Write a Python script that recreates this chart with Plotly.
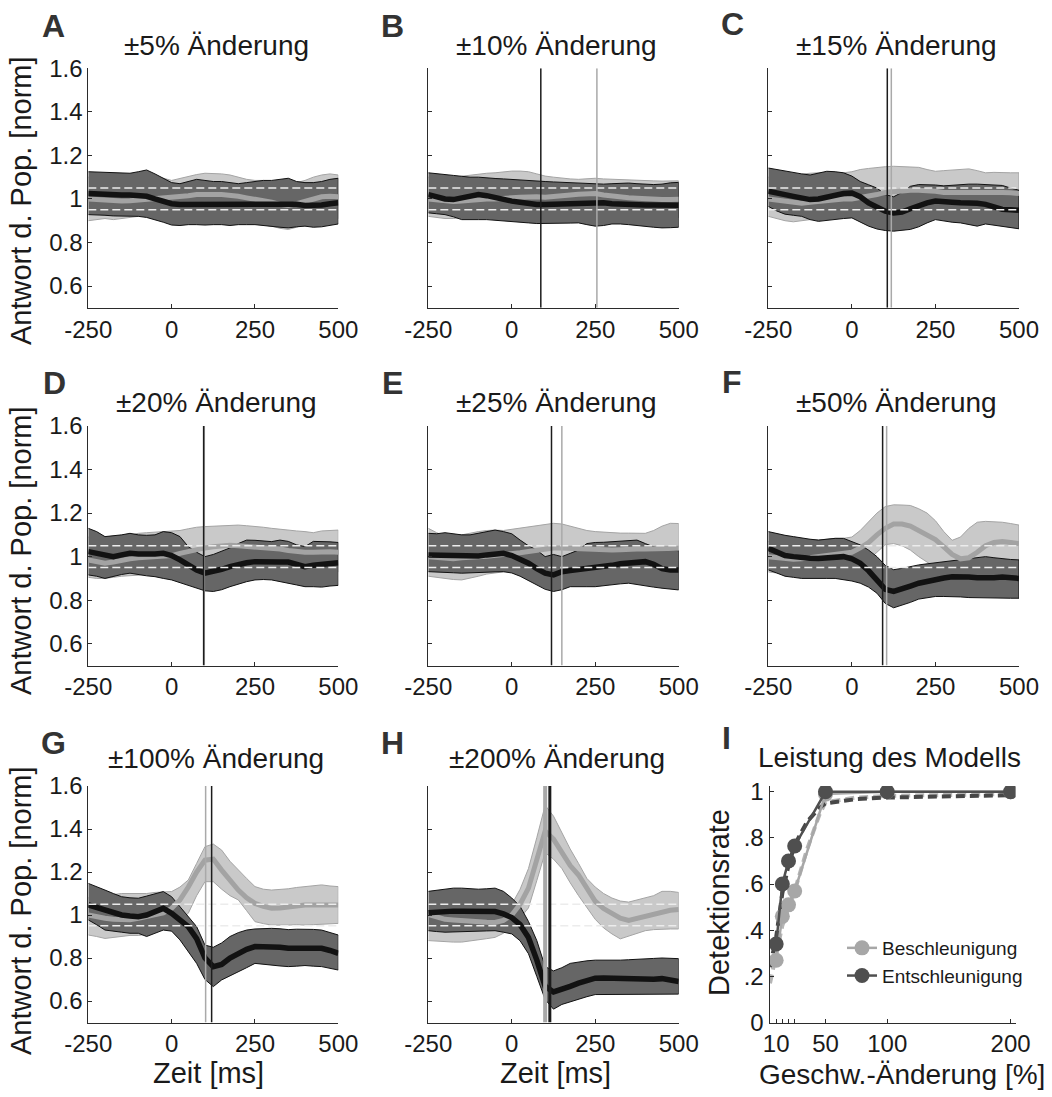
import plotly.graph_objects as go

# ---------------------------------------------------------------- data
TIME_MS = [-250, -225, -200, -175, -150, -125, -100, -75, -50, -25, 0, 25, 50, 75, 100,
           125, 150, 175, 200, 225, 250, 275, 300, 325, 350, 375, 400, 425, 450, 475, 500]

THRESH_HI = 1.05
THRESH_LO = 0.95

# ±5 %
A_acc_mean = [1.0, 0.998, 0.995, 0.99, 0.99, 0.992, 0.995, 0.998, 1.0, 1.002, 1.005, 1.01, 1.015, 1.02, 1.022, 1.02, 1.02, 1.018, 1.012, 1.005, 1.0, 0.995, 0.985, 0.975, 0.97, 0.978, 0.99, 1.0, 1.01, 1.012, 1.01]
A_acc_hi = [1.1, 1.098, 1.09, 1.085, 1.085, 1.09, 1.095, 1.1, 1.1, 1.095, 1.085, 1.095, 1.105, 1.112, 1.118, 1.118, 1.115, 1.11, 1.1, 1.09, 1.085, 1.085, 1.08, 1.075, 1.07, 1.075, 1.085, 1.1, 1.11, 1.115, 1.11]
A_acc_lo = [0.9, 0.905, 0.91, 0.905, 0.91, 0.915, 0.92, 0.92, 0.925, 0.93, 0.93, 0.935, 0.94, 0.945, 0.945, 0.94, 0.935, 0.925, 0.915, 0.9, 0.89, 0.88, 0.875, 0.865, 0.86, 0.87, 0.885, 0.9, 0.91, 0.915, 0.91]
A_dec_mean = [1.025, 1.022, 1.02, 1.02, 1.018, 1.018, 1.015, 1.012, 1.0, 0.988, 0.978, 0.975, 0.975, 0.977, 0.976, 0.975, 0.977, 0.978, 0.976, 0.975, 0.977, 0.975, 0.972, 0.975, 0.978, 0.976, 0.97, 0.968, 0.972, 0.978, 0.982]
A_dec_hi = [1.125, 1.123, 1.122, 1.12, 1.12, 1.118, 1.125, 1.133, 1.115, 1.095, 1.075, 1.07, 1.08, 1.09, 1.085, 1.08, 1.08, 1.075, 1.07, 1.075, 1.08, 1.085, 1.085, 1.09, 1.095, 1.08, 1.075, 1.075, 1.08, 1.09, 1.095]
A_dec_lo = [0.928, 0.925, 0.925, 0.922, 0.922, 0.92, 0.92, 0.915, 0.905, 0.893, 0.88, 0.878, 0.882, 0.882, 0.88, 0.882, 0.882, 0.878, 0.882, 0.882, 0.882, 0.878, 0.875, 0.87, 0.867, 0.872, 0.875, 0.87, 0.872, 0.878, 0.885]

# ±10 %
B_acc_mean = [1.0, 0.995, 0.99, 0.988, 0.99, 0.995, 1.0, 1.0, 1.0, 1.0, 1.005, 1.008, 1.01, 1.01, 1.008, 1.01, 1.012, 1.018, 1.022, 1.025, 1.025, 1.018, 1.012, 1.008, 1.005, 1.003, 1.0, 0.998, 0.997, 0.997, 0.998]
B_acc_hi = [1.1, 1.1, 1.095, 1.1, 1.105, 1.11, 1.115, 1.118, 1.12, 1.125, 1.128, 1.128, 1.125, 1.115, 1.105, 1.1, 1.095, 1.092, 1.09, 1.092, 1.095, 1.092, 1.09, 1.088, 1.086, 1.085, 1.085, 1.083, 1.082, 1.082, 1.083]
B_acc_lo = [0.92, 0.915, 0.91, 0.91, 0.915, 0.92, 0.925, 0.925, 0.928, 0.93, 0.93, 0.93, 0.93, 0.93, 0.928, 0.925, 0.92, 0.918, 0.915, 0.912, 0.91, 0.91, 0.91, 0.912, 0.912, 0.91, 0.91, 0.91, 0.91, 0.912, 0.915]
B_dec_mean = [1.02, 1.01, 1.0, 0.997, 1.005, 1.015, 1.02, 1.015, 1.005, 0.998, 0.99, 0.985, 0.978, 0.975, 0.975, 0.976, 0.978, 0.98, 0.982, 0.984, 0.985, 0.982, 0.978, 0.975, 0.974, 0.973, 0.972, 0.972, 0.971, 0.971, 0.971]
B_dec_hi = [1.12, 1.115, 1.11, 1.108, 1.104, 1.1, 1.1, 1.096, 1.094, 1.092, 1.089, 1.086, 1.083, 1.082, 1.08, 1.078, 1.076, 1.074, 1.073, 1.072, 1.07, 1.068, 1.07, 1.072, 1.073, 1.07, 1.068, 1.066, 1.068, 1.074, 1.076]
B_dec_lo = [0.936, 0.932, 0.928, 0.918, 0.905, 0.905, 0.905, 0.905, 0.903, 0.9, 0.898, 0.893, 0.89, 0.887, 0.887, 0.888, 0.888, 0.889, 0.89, 0.882, 0.875, 0.878, 0.885, 0.885, 0.882, 0.878, 0.875, 0.87, 0.867, 0.868, 0.87]

# ±15 %
C_acc_mean = [1.0, 0.995, 0.985, 0.98, 0.98, 0.985, 0.99, 0.995, 0.995, 1.0, 1.0, 1.005, 1.01, 1.02, 1.03, 1.035, 1.04, 1.04, 1.04, 1.04, 1.035, 1.03, 1.03, 1.03, 1.035, 1.035, 1.03, 1.03, 1.03, 1.028, 1.025]
C_acc_hi = [1.1, 1.1, 1.105, 1.11, 1.115, 1.118, 1.12, 1.118, 1.12, 1.12, 1.125, 1.135, 1.14, 1.145, 1.148, 1.15, 1.148, 1.145, 1.145, 1.135, 1.127, 1.13, 1.132, 1.135, 1.138, 1.13, 1.12, 1.122, 1.12, 1.12, 1.12]
C_acc_lo = [0.92, 0.91, 0.9, 0.895, 0.9, 0.905, 0.91, 0.915, 0.915, 0.925, 0.935, 0.945, 0.955, 0.96, 0.962, 0.96, 0.955, 0.95, 0.945, 0.94, 0.935, 0.935, 0.935, 0.935, 0.94, 0.94, 0.935, 0.935, 0.935, 0.935, 0.935]
C_dec_mean = [1.035, 1.03, 1.02, 1.012, 1.005, 0.997, 1.0, 1.01, 1.02, 1.025, 1.027, 1.01, 0.982, 0.96, 0.944, 0.936, 0.94, 0.955, 0.97, 0.982, 0.99, 0.99, 0.985, 0.982, 0.982, 0.98, 0.975, 0.965, 0.952, 0.95, 0.948]
C_dec_hi = [1.142, 1.135, 1.128, 1.12, 1.115, 1.11, 1.118, 1.127, 1.125, 1.12, 1.105, 1.08, 1.065, 1.05, 1.02, 1.01, 1.03, 1.058, 1.066, 1.066, 1.064, 1.06, 1.063, 1.066, 1.068, 1.068, 1.066, 1.064, 1.062, 1.05, 1.04]
C_dec_lo = [0.966, 0.945, 0.93, 0.925, 0.92, 0.905, 0.897, 0.9, 0.905, 0.91, 0.913, 0.895, 0.875, 0.862, 0.855, 0.852, 0.856, 0.86, 0.872, 0.89, 0.905, 0.9, 0.893, 0.89, 0.882, 0.875, 0.885, 0.88, 0.875, 0.868, 0.863]

# ±20 %
D_acc_mean = [0.985, 0.975, 0.97, 0.975, 0.985, 0.99, 0.995, 0.998, 1.0, 1.0, 1.005, 1.015, 1.025, 1.035, 1.04, 1.045, 1.05, 1.052, 1.05, 1.048, 1.045, 1.042, 1.04, 1.035, 1.028, 1.022, 1.02, 1.02, 1.022, 1.022, 1.02]
D_acc_hi = [1.09, 1.085, 1.08, 1.085, 1.09, 1.1, 1.107, 1.11, 1.112, 1.115, 1.115, 1.12, 1.128, 1.135, 1.138, 1.14, 1.142, 1.145, 1.145, 1.142, 1.14, 1.135, 1.13, 1.125, 1.12, 1.118, 1.115, 1.11, 1.118, 1.12, 1.122]
D_acc_lo = [0.905, 0.9, 0.9, 0.905, 0.91, 0.915, 0.915, 0.918, 0.92, 0.925, 0.935, 0.945, 0.955, 0.96, 0.962, 0.96, 0.958, 0.955, 0.955, 0.953, 0.95, 0.948, 0.945, 0.94, 0.935, 0.93, 0.928, 0.928, 0.93, 0.93, 0.93]
D_dec_mean = [1.023, 1.015, 1.005, 1.0, 1.008, 1.015, 1.012, 1.01, 1.012, 1.015, 1.005, 0.985, 0.96, 0.939, 0.924, 0.931, 0.942, 0.954, 0.965, 0.972, 0.977, 0.978, 0.98, 0.975, 0.975, 0.965, 0.954, 0.96, 0.965, 0.97, 0.972]
D_dec_hi = [1.13, 1.115, 1.092, 1.095, 1.1, 1.107, 1.1, 1.098, 1.1, 1.115, 1.11, 1.092, 1.046, 1.02, 1.0, 1.01, 1.025, 1.04, 1.06, 1.076, 1.075, 1.072, 1.069, 1.076, 1.07, 1.054, 1.046, 1.07, 1.07, 1.068, 1.065]
D_dec_lo = [0.916, 0.91, 0.9, 0.91, 0.918, 0.924, 0.918, 0.912, 0.908, 0.9, 0.893, 0.88, 0.868, 0.855, 0.843, 0.84, 0.848, 0.862, 0.875, 0.885, 0.893, 0.895, 0.893, 0.885, 0.878, 0.87, 0.862, 0.862, 0.86, 0.865, 0.868]

# ±25 %
E_acc_mean = [1.0, 0.995, 0.99, 0.99, 0.995, 1.0, 1.0, 1.002, 1.005, 1.008, 1.012, 1.018, 1.024, 1.03, 1.035, 1.04, 1.04, 1.038, 1.035, 1.032, 1.03, 1.03, 1.03, 1.032, 1.035, 1.035, 1.035, 1.036, 1.038, 1.038, 1.038]
E_acc_hi = [1.13, 1.11, 1.095, 1.092, 1.1, 1.108, 1.115, 1.12, 1.122, 1.12, 1.125, 1.13, 1.135, 1.14, 1.148, 1.153, 1.15, 1.14, 1.128, 1.12, 1.115, 1.112, 1.11, 1.108, 1.108, 1.107, 1.107, 1.12, 1.14, 1.153, 1.152]
E_acc_lo = [0.91, 0.905, 0.9, 0.895, 0.893, 0.9, 0.91, 0.92, 0.925, 0.93, 0.935, 0.94, 0.945, 0.95, 0.955, 0.958, 0.955, 0.95, 0.948, 0.945, 0.945, 0.945, 0.945, 0.945, 0.945, 0.945, 0.945, 0.945, 0.945, 0.945, 0.945]
E_dec_mean = [1.008, 1.007, 1.005, 1.002, 1.0, 1.0, 1.003, 1.008, 1.012, 1.015, 1.005, 0.99, 0.97, 0.945, 0.924, 0.916, 0.931, 0.936, 0.94, 0.943, 0.946, 0.952, 0.96, 0.967, 0.972, 0.975, 0.977, 0.965, 0.945, 0.939, 0.939]
E_dec_hi = [1.107, 1.105, 1.11, 1.105, 1.1, 1.1, 1.108, 1.115, 1.122, 1.115, 1.105, 1.076, 1.05, 1.03, 1.0, 1.01, 1.0, 1.015, 1.03, 1.06, 1.065, 1.066, 1.068, 1.069, 1.072, 1.076, 1.06, 1.045, 1.035, 1.03, 1.027]
E_dec_lo = [0.931, 0.93, 0.928, 0.926, 0.924, 0.924, 0.926, 0.928, 0.93, 0.931, 0.925, 0.91, 0.893, 0.87, 0.85, 0.84, 0.848, 0.862, 0.862, 0.862, 0.862, 0.865, 0.87, 0.875, 0.878, 0.872, 0.865, 0.86, 0.855, 0.85, 0.847]

# ±50 %
F_acc_mean = [1.0, 0.995, 0.99, 0.988, 0.99, 0.995, 1.0, 1.005, 1.008, 1.01, 1.02, 1.04, 1.065, 1.1, 1.13, 1.15, 1.15, 1.14, 1.12, 1.1, 1.078, 1.045, 1.01, 0.99, 0.995, 1.02, 1.05, 1.065, 1.07, 1.065, 1.06]
F_acc_hi = [1.07, 1.07, 1.075, 1.08, 1.08, 1.078, 1.076, 1.08, 1.084, 1.084, 1.09, 1.12, 1.16, 1.2, 1.23, 1.238, 1.237, 1.235, 1.22, 1.2, 1.165, 1.115, 1.075, 1.09, 1.13, 1.158, 1.162, 1.16, 1.158, 1.152, 1.145]
F_acc_lo = [0.93, 0.925, 0.92, 0.92, 0.92, 0.925, 0.93, 0.935, 0.94, 0.945, 0.95, 0.96, 0.985, 1.02, 1.055, 1.06, 1.05, 1.03, 1.0, 0.975, 0.95, 0.925, 0.91, 0.91, 0.93, 0.955, 0.975, 0.985, 0.985, 0.98, 0.975]
F_dec_mean = [1.038, 1.02, 1.005, 1.0, 0.995, 0.993, 0.992, 0.995, 0.998, 1.0, 0.99, 0.97, 0.935, 0.893, 0.85, 0.84, 0.855, 0.865, 0.878, 0.888, 0.895, 0.902, 0.908, 0.91, 0.906, 0.903, 0.9, 0.903, 0.906, 0.902, 0.9]
F_dec_hi = [1.115, 1.105, 1.098, 1.092, 1.085, 1.08, 1.076, 1.08, 1.084, 1.084, 1.07, 1.054, 1.03, 1.0, 0.96, 0.94, 0.946, 0.955, 0.962, 0.967, 0.972, 0.977, 0.982, 0.987, 0.992, 0.996, 1.0, 0.995, 0.99, 0.987, 0.985]
F_dec_lo = [0.939, 0.925, 0.91, 0.905, 0.9, 0.9, 0.9, 0.9, 0.9, 0.895, 0.888, 0.878, 0.86, 0.832, 0.785, 0.765, 0.778, 0.79, 0.805, 0.812, 0.817, 0.817, 0.817, 0.815, 0.812, 0.81, 0.809, 0.809, 0.809, 0.809, 0.809]

# ±100 %
G_acc_mean = [1.0, 0.99, 0.985, 0.98, 0.977, 0.978, 0.985, 0.995, 1.0, 1.01, 1.031, 1.07, 1.13, 1.2, 1.255, 1.26, 1.209, 1.16, 1.116, 1.08, 1.054, 1.04, 1.031, 1.033, 1.038, 1.042, 1.047, 1.047, 1.047, 1.047, 1.047]
G_acc_hi = [1.08, 1.085, 1.09, 1.095, 1.1, 1.1, 1.1, 1.1, 1.105, 1.108, 1.109, 1.13, 1.163, 1.24, 1.318, 1.33, 1.302, 1.25, 1.209, 1.17, 1.132, 1.12, 1.116, 1.118, 1.122, 1.128, 1.132, 1.138, 1.14, 1.135, 1.132]
G_acc_lo = [0.907, 0.9, 0.891, 0.895, 0.9, 0.905, 0.905, 0.91, 0.92, 0.935, 0.946, 0.975, 1.008, 1.09, 1.155, 1.155, 1.12, 1.09, 1.07, 1.02, 0.969, 0.96, 0.953, 0.953, 0.953, 0.955, 0.953, 0.955, 0.958, 0.96, 0.961]
G_dec_mean = [1.047, 1.035, 1.023, 1.01, 1.0, 0.995, 0.992, 1.0, 1.016, 1.031, 1.008, 0.98, 0.946, 0.89, 0.8, 0.76, 0.77, 0.8, 0.822, 0.84, 0.853, 0.853, 0.853, 0.85, 0.845, 0.845, 0.845, 0.847, 0.845, 0.835, 0.822]
G_dec_hi = [1.147, 1.13, 1.116, 1.1, 1.085, 1.08, 1.078, 1.088, 1.1, 1.109, 1.085, 1.039, 0.99, 0.946, 0.86, 0.85, 0.87, 0.9, 0.918, 0.93, 0.935, 0.938, 0.938, 0.936, 0.932, 0.934, 0.935, 0.933, 0.93, 0.92, 0.907]
G_dec_lo = [0.977, 0.955, 0.93, 0.925, 0.92, 0.915, 0.915, 0.9, 0.915, 0.93, 0.925, 0.884, 0.83, 0.775, 0.7, 0.667, 0.698, 0.72, 0.736, 0.755, 0.775, 0.772, 0.767, 0.763, 0.76, 0.762, 0.765, 0.762, 0.76, 0.752, 0.744]

# ±200 %
H_acc_mean = [1.003, 0.99, 0.98, 0.977, 0.973, 0.97, 0.968, 0.966, 0.965, 0.975, 1.0, 1.05, 1.125, 1.26, 1.39, 1.353, 1.29, 1.23, 1.186, 1.12, 1.064, 1.03, 1.005, 0.985, 0.975, 0.985, 0.995, 1.005, 1.015, 1.022, 1.026]
H_acc_hi = [1.056, 1.055, 1.052, 1.05, 1.048, 1.046, 1.045, 1.045, 1.045, 1.047, 1.049, 1.12, 1.216, 1.36, 1.51, 1.46, 1.38, 1.307, 1.24, 1.17, 1.13, 1.1, 1.079, 1.065, 1.06, 1.07, 1.079, 1.09, 1.11, 1.11, 1.105]
H_acc_lo = [0.881, 0.878, 0.876, 0.874, 0.874, 0.878, 0.885, 0.89, 0.896, 0.915, 0.942, 0.985, 1.033, 1.16, 1.29, 1.26, 1.216, 1.15, 1.09, 1.033, 0.98, 0.94, 0.912, 0.889, 0.9, 0.915, 0.927, 0.932, 0.935, 0.935, 0.935]
H_dec_mean = [1.01, 1.014, 1.017, 1.018, 1.018, 1.018, 1.018, 1.018, 1.016, 1.005, 0.988, 0.955, 0.895, 0.79, 0.668, 0.642, 0.653, 0.668, 0.683, 0.695, 0.706, 0.707, 0.706, 0.703, 0.7, 0.699, 0.699, 0.701, 0.704, 0.7, 0.691]
H_dec_hi = [1.11, 1.115, 1.12, 1.125, 1.125, 1.122, 1.12, 1.122, 1.125, 1.11, 1.079, 1.04, 0.97, 0.881, 0.76, 0.74, 0.755, 0.775, 0.782, 0.787, 0.79, 0.79, 0.788, 0.79, 0.792, 0.795, 0.797, 0.798, 0.8, 0.8, 0.797]
H_dec_lo = [0.927, 0.923, 0.92, 0.919, 0.92, 0.922, 0.925, 0.926, 0.927, 0.92, 0.912, 0.88, 0.82, 0.714, 0.607, 0.562, 0.584, 0.595, 0.607, 0.62, 0.63, 0.63, 0.63, 0.63, 0.63, 0.63, 0.632, 0.632, 0.632, 0.632, 0.632]

PANEL_LETTERS = ["A", "B", "C", "D", "E", "F", "G", "H"]
PANEL_TITLES = ["±5% Änderung", "±10% Änderung", "±15% Änderung", "±20% Änderung",
                "±25% Änderung", "±50% Änderung", "±100% Änderung", "±200% Änderung"]
# detection times [ms] (acceleration, deceleration); None = not detected
DETECT_ACC = [None, 255, 118, 98, 150, 104, 102, 100]
DETECT_DEC = [None, 87, 106, 96, 119, 92, 120, 114]

# model performance
SPEED_CHANGE = [10, 15, 20, 25, 50, 100, 200]
RATE_ACC = [0.27, 0.46, 0.51, 0.57, 0.99, 1.0, 1.0]
RATE_DEC = [0.34, 0.60, 0.70, 0.765, 1.0, 1.0, 1.0]
FIT_X = [5, 10, 15, 20, 25, 35, 45, 50, 75, 100, 200]
FIT_ACC = [0.17, 0.30, 0.42, 0.50, 0.57, 0.75, 0.90, 0.955, 0.975, 0.982, 0.99]
FIT_DEC = [0.24, 0.37, 0.56, 0.68, 0.77, 0.87, 0.93, 0.95, 0.968, 0.975, 0.985]

TIME_TICKS = [-250, 0, 250, 500]
RESP_TICKS = [0.6, 0.8, 1.0, 1.2, 1.4, 1.6]
RESP_TICKTEXT = ["0.6", "0.8", "1", "1.2", "1.4", "1.6"]
RATE_TICKS = [0, 0.2, 0.4, 0.6, 0.8, 1.0]
RATE_TICKTEXT = ["0", ".2", ".4", ".6", ".8", "1"]
SPEED_TICKS = [10, 15, 20, 25, 50, 100, 200]
SPEED_TICKTEXT = ["10", "", "", "", "50", "100", "200"]

series = {
    "A": (A_acc_mean, A_acc_lo, A_acc_hi, A_dec_mean, A_dec_lo, A_dec_hi),
    "B": (B_acc_mean, B_acc_lo, B_acc_hi, B_dec_mean, B_dec_lo, B_dec_hi),
    "C": (C_acc_mean, C_acc_lo, C_acc_hi, C_dec_mean, C_dec_lo, C_dec_hi),
    "D": (D_acc_mean, D_acc_lo, D_acc_hi, D_dec_mean, D_dec_lo, D_dec_hi),
    "E": (E_acc_mean, E_acc_lo, E_acc_hi, E_dec_mean, E_dec_lo, E_dec_hi),
    "F": (F_acc_mean, F_acc_lo, F_acc_hi, F_dec_mean, F_dec_lo, F_dec_hi),
    "G": (G_acc_mean, G_acc_lo, G_acc_hi, G_dec_mean, G_dec_lo, G_dec_hi),
    "H": (H_acc_mean, H_acc_lo, H_acc_hi, H_dec_mean, H_dec_lo, H_dec_hi),
}

# ---------------------------------------------------------------- layout
W, H = 1052, 1097
FONT = "Liberation Sans, Arial, sans-serif"
INK = "#1a1a1a"
AXIS = "#2b2b2b"

LIGHT_FILL = "#c9c9c9"
LIGHT_EDGE = "#a4a4a4"
LIGHT_MEAN = "#a3a3a3"
DARK_FILL = "#666666"
DARK_EDGE = "#111111"
DARK_MEAN = "#121212"

COLS = [(88.3, 338.3), (428.3, 678.7), (768.3, 1019.0)]
ROWS = [(68.3, 307.8), (426.0, 665.5), (786.0, 1022.5)]
I_COL = (769.5, 1015.5)


def fx(px):
    return px / W


def fy(py):
    return 1 - py / H


fig = go.Figure()
layout = dict(
    template="none",
    width=W, height=H, autosize=False,
    margin=dict(l=0, r=0, t=0, b=0, pad=0),
    paper_bgcolor="white", plot_bgcolor="white",
    font=dict(family=FONT, color=INK, size=24),
    showlegend=True,
)
annotations = []


def axis_common():
    return dict(showline=True, linecolor=AXIS, linewidth=1, mirror=False, automargin=False,
                showgrid=False, zeroline=False, ticks="inside", ticklen=4,
                tickcolor=AXIS, tickwidth=1, tickfont=dict(size=24, color=INK, family=FONT))


for k, letter in enumerate(PANEL_LETTERS):
    r, c = divmod(k, 3)
    idx = k + 1
    xa, ya = f"x{idx}", f"y{idx}"
    x0, x1 = COLS[c]
    y0, y1 = ROWS[r]
    layout[f"xaxis{idx}"] = dict(
        axis_common(), domain=[fx(x0), fx(x1)], anchor=ya,
        range=[-250, 500], tickvals=TIME_TICKS, ticktext=[str(v) for v in TIME_TICKS])
    layout[f"yaxis{idx}"] = dict(
        axis_common(), domain=[fy(y1), fy(y0)], anchor=xa,
        range=[0.5, 1.6], tickvals=RESP_TICKS, ticktext=RESP_TICKTEXT,
        showticklabels=(c == 0))

    acc_m, acc_lo, acc_hi, dec_m, dec_lo, dec_hi = series[letter]
    band_x = TIME_MS + TIME_MS[::-1]

    # acceleration band (light) and deceleration band (dark)
    fig.add_trace(go.Scatter(x=band_x, y=acc_hi + acc_lo[::-1], xaxis=xa, yaxis=ya,
                             fill="toself", fillcolor=LIGHT_FILL,
                             line=dict(color=LIGHT_EDGE, width=1),
                             mode="lines", showlegend=False, hoverinfo="skip"))
    fig.add_trace(go.Scatter(x=band_x, y=dec_hi + dec_lo[::-1], xaxis=xa, yaxis=ya,
                             fill="toself", fillcolor=DARK_FILL,
                             line=dict(color=DARK_EDGE, width=1),
                             mode="lines", showlegend=False, hoverinfo="skip"))
    # population means
    fig.add_trace(go.Scatter(x=TIME_MS, y=acc_m, xaxis=xa, yaxis=ya, mode="lines",
                             line=dict(color=LIGHT_MEAN, width=5),
                             showlegend=False))
    fig.add_trace(go.Scatter(x=TIME_MS, y=dec_m, xaxis=xa, yaxis=ya, mode="lines",
                             line=dict(color=DARK_MEAN, width=5.5),
                             showlegend=False))
    # detection thresholds
    for thr in (THRESH_HI, THRESH_LO):
        fig.add_trace(go.Scatter(x=[-250, 500], y=[thr, thr], xaxis=xa, yaxis=ya,
                                 mode="lines",
                                 line=dict(color="#ececec", width=1.5, dash="8px,4px"),
                                 showlegend=False, hoverinfo="skip"))
    # detection times
    thick = letter == "H"
    if DETECT_ACC[k] is not None:
        fig.add_trace(go.Scatter(x=[DETECT_ACC[k]] * 2, y=[0.5, 1.6], xaxis=xa, yaxis=ya,
                                 mode="lines",
                                 line=dict(color="#a9a9a9", width=4 if thick else 1.5),
                                 showlegend=False))
    if DETECT_DEC[k] is not None:
        fig.add_trace(go.Scatter(x=[DETECT_DEC[k]] * 2, y=[0.5, 1.6], xaxis=xa, yaxis=ya,
                                 mode="lines",
                                 line=dict(color="#1c1c1c", width=3 if thick else 1.5),
                                 showlegend=False))

    # panel letter and title
    letter_pos = {
        "A": (53, 26), "B": (392, 26), "C": (732, 24),
        "D": (54, 383), "E": (392, 383), "F": (732, 382),
        "G": (53, 743), "H": (392, 743),
    }[letter]
    annotations.append(dict(text=f"<b>{letter}</b>", x=fx(letter_pos[0]), y=fy(letter_pos[1]),
                            xref="paper", yref="paper", showarrow=False,
                            xanchor="center", yanchor="middle",
                            font=dict(size=32, color="#333333", family=FONT)))
    title_y = [46, 402, 758][r]
    annotations.append(dict(text=PANEL_TITLES[k], x=fx((x0 + x1) / 2 + 3), y=fy(title_y),
                            xref="paper", yref="paper", showarrow=False,
                            xanchor="center", yanchor="middle",
                            font=dict(size=28, color=INK, family=FONT)))

# ---------------------------------------------------------------- panel I
layout["xaxis9"] = dict(axis_common(), domain=[fx(I_COL[0]), fx(I_COL[1])], anchor="y9",
                        range=[4.6, 204], tickvals=SPEED_TICKS, ticktext=SPEED_TICKTEXT)
layout["yaxis9"] = dict(axis_common(), domain=[fy(ROWS[2][1]), fy(ROWS[2][0])], anchor="x9",
                        range=[0, 1.025], tickvals=RATE_TICKS, ticktext=RATE_TICKTEXT)

ACC_COL = "#a7a7a7"
DEC_COL = "#4f4f4f"
fig.add_trace(go.Scatter(x=FIT_X, y=FIT_ACC, xaxis="x9", yaxis="y9", mode="lines",
                         line=dict(color="#b5b5b5", width=4, dash="9px,5px"),
                         showlegend=False))
fig.add_trace(go.Scatter(x=FIT_X, y=FIT_DEC, xaxis="x9", yaxis="y9", mode="lines",
                         line=dict(color="#474747", width=4, dash="9px,5px"),
                         showlegend=False))
fig.add_trace(go.Scatter(x=SPEED_CHANGE, y=RATE_ACC, xaxis="x9", yaxis="y9",
                         mode="lines+markers", name="Beschleunigung",
                         line=dict(color=ACC_COL, width=2.5),
                         marker=dict(color=ACC_COL, size=15, line=dict(width=0))))
fig.add_trace(go.Scatter(x=SPEED_CHANGE, y=RATE_DEC, xaxis="x9", yaxis="y9",
                         mode="lines+markers", name="Entschleunigung",
                         line=dict(color=DEC_COL, width=2.5),
                         marker=dict(color=DEC_COL, size=15, line=dict(width=0))))

layout["legend"] = dict(x=fx(842), y=fy(929), xanchor="left", yanchor="top",
                        bgcolor="rgba(0,0,0,0)", borderwidth=0,
                        font=dict(size=19, color=INK, family=FONT),
                        tracegroupgap=0, itemwidth=30)

annotations.append(dict(text="<b>I</b>", x=fx(726), y=fy(738), xref="paper", yref="paper",
                        showarrow=False, xanchor="center", yanchor="middle",
                        font=dict(size=32, color="#333333", family=FONT)))
annotations.append(dict(text="Leistung des Modells", x=fx(889), y=fy(757),
                        xref="paper", yref="paper", showarrow=False,
                        xanchor="center", yanchor="middle",
                        font=dict(size=28, color=INK, family=FONT)))

# ---------------------------------------------------------------- axis titles
for yc in (201, 551, 911):
    annotations.append(dict(text="Antwort d. Pop. [norm]", x=fx(21), y=fy(yc),
                            xref="paper", yref="paper", showarrow=False, textangle=-90,
                            xanchor="center", yanchor="middle",
                            font=dict(size=29, color=INK, family=FONT)))
for xc in (208, 555):
    annotations.append(dict(text="Zeit [ms]", x=fx(xc), y=fy(1073),
                            xref="paper", yref="paper", showarrow=False,
                            xanchor="center", yanchor="middle",
                            font=dict(size=29, color=INK, family=FONT)))
annotations.append(dict(text="Geschw.-Änderung [%]", x=fx(902), y=fy(1074),
                        xref="paper", yref="paper", showarrow=False,
                        xanchor="center", yanchor="middle",
                        font=dict(size=28, color=INK, family=FONT)))
annotations.append(dict(text="Detektionsrate", x=fx(719), y=fy(903),
                        xref="paper", yref="paper", showarrow=False, textangle=-90,
                        xanchor="center", yanchor="middle",
                        font=dict(size=29, color=INK, family=FONT)))

layout["annotations"] = annotations
fig.update_layout(**layout)
fig.write_html("out.html")
